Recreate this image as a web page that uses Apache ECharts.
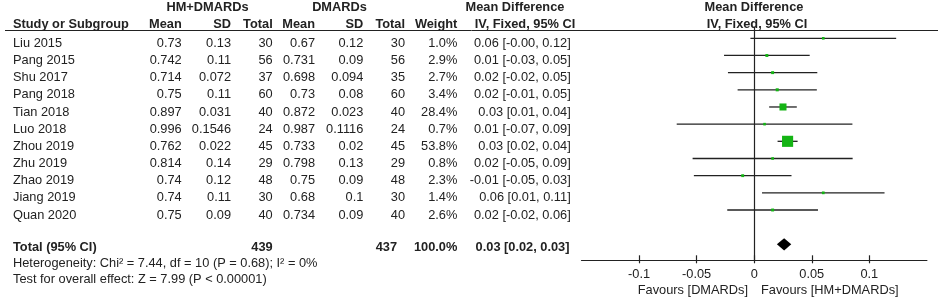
<!DOCTYPE html>
<html>
<head>
<meta charset="utf-8">
<script src="https://cdn.jsdelivr.net/npm/echarts@6/dist/echarts.min.js"></script>
<style>
  html, body { margin: 0; padding: 0; background: #fff; }
  #main { width: 941px; height: 299px; }
</style>
</head>
<body>
<div id="main"></div>
<script>
// study data
var studies = ['Liu 2015', 'Pang 2015', 'Shu 2017', 'Pang 2018', 'Tian 2018', 'Luo 2018',
  'Zhou 2019', 'Zhu 2019', 'Zhao 2019', 'Jiang 2019', 'Quan 2020'];
var expMean = [0.73, 0.742, 0.714, 0.75, 0.897, 0.996, 0.762, 0.814, 0.74, 0.74, 0.75];
var expSD = [0.13, 0.11, 0.072, 0.11, 0.031, 0.1546, 0.022, 0.14, 0.12, 0.11, 0.09];
var expN = [30, 56, 37, 60, 40, 24, 45, 29, 48, 30, 40];
var ctlMean = [0.67, 0.731, 0.698, 0.73, 0.872, 0.987, 0.733, 0.798, 0.75, 0.68, 0.734];
var ctlSD = [0.12, 0.09, 0.094, 0.08, 0.023, 0.1116, 0.02, 0.13, 0.09, 0.1, 0.09];
var ctlN = [30, 56, 35, 60, 40, 24, 45, 29, 48, 30, 40];
var weights = [1.0, 2.9, 2.7, 3.4, 28.4, 0.7, 53.8, 0.8, 2.3, 1.4, 2.6];
var md = [0.06, 0.011, 0.016, 0.02, 0.025, 0.009, 0.029, 0.016, -0.01, 0.06, 0.016];
var ciLow = [-0.0033, -0.0262, -0.0228, -0.0144, 0.0130, -0.0673, 0.0203, -0.0535, -0.0524, 0.0068, -0.0234];
var ciHigh = [0.1233, 0.0482, 0.0548, 0.0544, 0.0370, 0.0853, 0.0377, 0.0855, 0.0324, 0.1132, 0.0554];
var mdText = ['0.06 [-0.00, 0.12]', '0.01 [-0.03, 0.05]', '0.02 [-0.02, 0.05]', '0.02 [-0.01, 0.05]',
  '0.03 [0.01, 0.04]', '0.01 [-0.07, 0.09]', '0.03 [0.02, 0.04]', '0.02 [-0.05, 0.09]',
  '-0.01 [-0.05, 0.03]', '0.06 [0.01, 0.11]', '0.02 [-0.02, 0.06]'];

// pooled result
var totalExpN = 439;
var totalCtlN = 437;
var totalWeight = '100.0%';
var pooled = [0.026, 0.0197, 0.0322];
var pooledText = '0.03 [0.02, 0.03]';

var xTicks = [-0.1, -0.05, 0, 0.05, 0.1];

// layout
var W = 941, H = 299;
var rowH = 17.17;
var textRow0 = 43.3;   // y of first table row
var plotRow0 = 38.3;   // y of first CI line
var plotTop = 27;
var axisY = 260.3;
var totalRow = 11.9;   // table index of the Total row
var txt = '#222';
var fam = '"Liberation Sans", Arial, sans-serif';
var fs = 12.8;

function font(b) { return (b ? 'bold ' : '') + fs + 'px ' + fam; }

// column right edges of the table
var col = { mean1: 181.7, sd1: 231, n1: 272.7, mean2: 315, sd2: 363.3, n2: 405, w: 457.3, ci: 570.7 };

var tableRows = studies.map(function (s, i) {
  return [
    { x: 13, t: s, a: 'left' },
    { x: col.mean1, t: String(expMean[i]) },
    { x: col.sd1, t: String(expSD[i]) },
    { x: col.n1, t: String(expN[i]) },
    { x: col.mean2, t: String(ctlMean[i]) },
    { x: col.sd2, t: String(ctlSD[i]) },
    { x: col.n2, t: String(ctlN[i]) },
    { x: col.w, t: weights[i].toFixed(1) + '%' },
    { x: col.ci, t: mdText[i] }
  ];
});
tableRows.push([
  { x: 13, t: 'Total (95% CI)', a: 'left', b: true },
  { x: col.n1, t: String(totalExpN), b: true },
  { x: 397, t: String(totalCtlN), b: true },
  { x: col.w, t: totalWeight, b: true },
  { x: 569.5, t: pooledText, b: true }
]);
var tableData = tableRows.map(function (r, i) { return [0, i < studies.length ? i : totalRow]; });

function label(t, x, y, align, bold) {
  return {
    type: 'text', x: x, y: y, silent: true,
    style: { text: t, font: font(bold), fill: txt, align: align, textAlign: align,
      verticalAlign: 'middle', textVerticalAlign: 'middle' }
  };
}

var graphics = [
  label('HM+DMARDs', 207.5, 7.5, 'center', true),
  label('DMARDs', 339.5, 7.5, 'center', true),
  label('Mean Difference', 515, 7.5, 'center', true),
  label('Mean Difference', 754, 7.5, 'center', true),
  label('Study or Subgroup', 13, 24.5, 'left', true),
  label('Mean', col.mean1, 24.5, 'right', true),
  label('SD', col.sd1, 24.5, 'right', true),
  label('Total', col.n1, 24.5, 'right', true),
  label('Mean', col.mean2, 24.5, 'right', true),
  label('SD', col.sd2, 24.5, 'right', true),
  label('Total', col.n2, 24.5, 'right', true),
  label('Weight', col.w, 24.5, 'right', true),
  label('IV, Fixed, 95% CI', 525, 24.5, 'center', true),
  label('IV, Fixed, 95% CI', 757, 24.5, 'center', true),
  label('Heterogeneity: Chi² = 7.44, df = 10 (P = 0.68); I² = 0%', 13, 263, 'left', false),
  label('Test for overall effect: Z = 7.99 (P < 0.00001)', 13, 279.5, 'left', false),
  label('Favours [DMARDs]', 748, 290.5, 'right', false),
  label('Favours [HM+DMARDs]', 761, 290.5, 'left', false),
  {
    type: 'line', silent: true,
    shape: { x1: 5, y1: 30.5, x2: 938, y2: 30.5 },
    style: { stroke: txt, lineWidth: 1 }
  }
];

var plotMin = -(plotRow0 - plotTop) / rowH;
var plotMax = plotMin + (axisY - plotTop) / rowH;
var tabMin = -textRow0 / rowH;
var tabMax = tabMin + H / rowH;

var myChart = echarts.init(document.getElementById('main'));
var option = {
  animation: false,
  graphic: graphics,
  grid: [
    { left: 581.5, right: W - 926.9, top: plotTop, bottom: H - axisY },
    { left: 0, right: 0, top: 0, bottom: 0 }
  ],
  xAxis: [
    {
      gridIndex: 0, type: 'value', min: -0.15, max: 0.15, interval: 0.05, position: 'bottom',
      axisLine: { onZero: false, lineStyle: { color: txt, width: 1.2 } },
      axisTick: { customValues: xTicks, length: 3, lineStyle: { color: txt, width: 1.2 } },
      axisLabel: { customValues: xTicks, color: txt, fontFamily: fam, fontSize: fs, margin: 8 },
      splitLine: { show: false }
    },
    {
      gridIndex: 0, type: 'value', min: -0.15, max: 0.15, interval: 0.05, position: 'bottom',
      axisLine: { show: false, onZero: false },
      axisTick: { inside: true, customValues: xTicks, length: 5, lineStyle: { color: txt, width: 1.2 } },
      axisLabel: { show: false },
      splitLine: { show: false }
    },
    { gridIndex: 1, type: 'value', min: 0, max: W, show: false }
  ],
  yAxis: [
    {
      gridIndex: 0, type: 'value', inverse: true, min: plotMin, max: plotMax,
      axisLine: { show: true, onZero: true, lineStyle: { color: txt, width: 1.2 } },
      axisTick: { show: false }, axisLabel: { show: false }, splitLine: { show: false }
    },
    { gridIndex: 1, type: 'value', inverse: true, min: tabMin, max: tabMax, show: false }
  ],
  series: [
    {
      // confidence intervals
      type: 'custom', xAxisIndex: 0, yAxisIndex: 0, silent: true,
      data: studies.map(function (s, i) { return [ciLow[i], ciHigh[i], i]; }),
      renderItem: function (params, api) {
        var a = api.coord([api.value(0), api.value(2)]);
        var b = api.coord([api.value(1), api.value(2)]);
        return { type: 'line', shape: { x1: a[0], y1: a[1], x2: b[0], y2: b[1] },
          style: { stroke: txt, lineWidth: 1.3 } };
      }
    },
    {
      // point estimates, box size from weight
      type: 'scatter', xAxisIndex: 0, yAxisIndex: 0, silent: true, z: 3,
      symbol: 'rect',
      symbolSize: function (v) { return 2.5 + 0.16 * v[2]; },
      itemStyle: { color: '#14b414', opacity: 1 },
      data: studies.map(function (s, i) { return [md[i], i, weights[i]]; })
    },
    {
      // pooled diamond
      type: 'custom', xAxisIndex: 0, yAxisIndex: 0, silent: true, z: 3,
      data: [[pooled[0], pooled[1], pooled[2], 12]],
      renderItem: function (params, api) {
        var row = api.value(3);
        var c = api.coord([api.value(0), row]);
        var l = api.coord([api.value(1), row]);
        var r = api.coord([api.value(2), row]);
        return { type: 'polygon',
          shape: { points: [l, [c[0], c[1] - 6.2], r, [c[0], c[1] + 6.2]] },
          style: { fill: '#000' } };
      }
    },
    {
      // table text
      type: 'custom', xAxisIndex: 2, yAxisIndex: 1, silent: true,
      data: tableData,
      renderItem: function (params, api) {
        var y = api.coord([0, api.value(1)])[1];
        var cells = tableRows[params.dataIndex];
        return {
          type: 'group',
          children: cells.map(function (c) {
            var al = c.a || 'right';
            return { type: 'text', x: c.x, y: y,
              style: { text: c.t, font: font(c.b), fill: txt, align: al, textAlign: al,
                verticalAlign: 'middle', textVerticalAlign: 'middle' } };
          })
        };
      }
    }
  ]
};
myChart.setOption(option);
</script>
</body>
</html>
